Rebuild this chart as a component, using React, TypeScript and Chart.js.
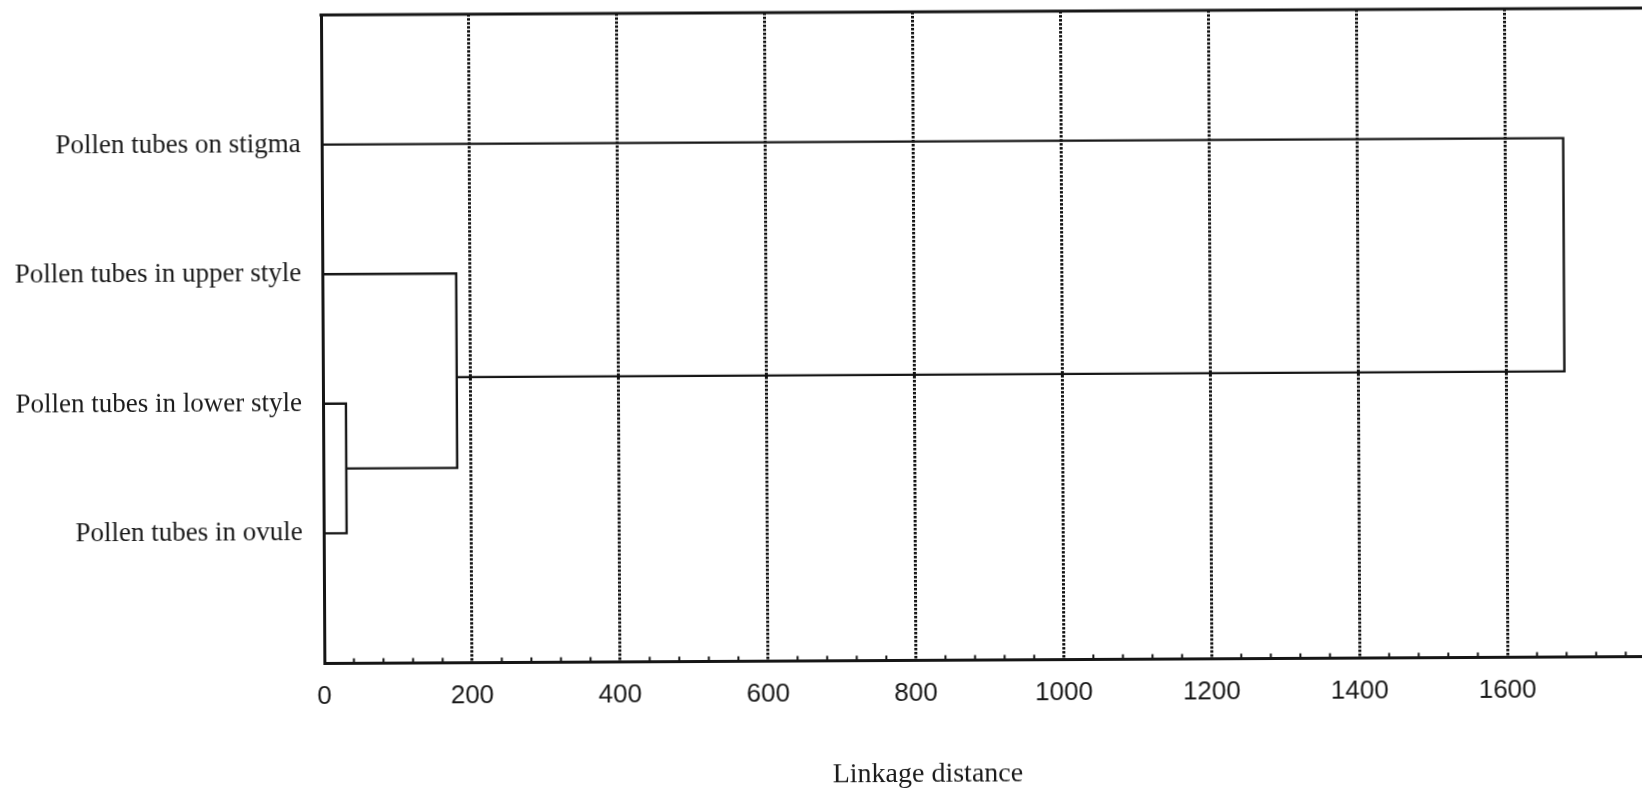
import { useEffect, useRef } from "react";
import { Chart, registerables } from "chart.js";

Chart.register(...registerables);

// Leaves of the dendrogram, top to bottom, and their row positions
const leafLabels = [
  "Pollen tubes on stigma",
  "Pollen tubes in upper style",
  "Pollen tubes in lower style",
  "Pollen tubes in ovule",
];
const leafRows = [1, 2, 3, 4];

// Linkage distances of the three joins (lower+ovule, +upper, +stigma)
const mergeDistances = [31, 181, 1679];
// Row at which each joined cluster's stem leaves its bracket
const mergeStems = [3.5, 2.8];

// Axis settings
const distanceTicks = [0, 200, 400, 600, 800, 1000, 1200, 1400, 1600];
const distanceMax = 1800;
const minorStep = 40;
const axisTitle = "Linkage distance";

const INK = "#161616";
const TEXT = "#1a1a1a";

// Each link is a bracket: child A -> join distance -> child B
const links = [
  [
    { x: 0, y: leafRows[2] },
    { x: mergeDistances[0], y: leafRows[2] },
    { x: mergeDistances[0], y: leafRows[3] },
    { x: 0, y: leafRows[3] },
  ],
  [
    { x: 0, y: leafRows[1] },
    { x: mergeDistances[1], y: leafRows[1] },
    { x: mergeDistances[1], y: mergeStems[0] },
    { x: mergeDistances[0], y: mergeStems[0] },
  ],
  [
    { x: 0, y: leafRows[0] },
    { x: mergeDistances[2], y: leafRows[0] },
    { x: mergeDistances[2], y: mergeStems[1] },
    { x: mergeDistances[1], y: mergeStems[1] },
  ],
];

// Top frame line, inward minor ticks and the axis caption
const framePlugin = {
  id: "frameAndCaption",
  afterDraw(chart: any) {
    const { ctx, chartArea, scales } = chart;
    const { left, right, top, bottom } = chartArea;
    const x = scales.x;
    ctx.save();
    ctx.strokeStyle = INK;
    ctx.lineWidth = 3;
    ctx.beginPath();
    ctx.moveTo(left - 1.5, top);
    ctx.lineTo(right, top);
    ctx.stroke();

    ctx.lineWidth = 2;
    ctx.beginPath();
    for (let v = minorStep; v <= distanceMax; v += minorStep) {
      if (v % 200 === 0) continue;
      const px = x.getPixelForValue(v);
      ctx.moveTo(px, bottom);
      ctx.lineTo(px, bottom - 4.5);
    }
    ctx.stroke();

    ctx.fillStyle = TEXT;
    ctx.font = '28px "Liberation Serif"';
    ctx.textAlign = "center";
    ctx.textBaseline = "middle";
    ctx.fillText(axisTitle, left + (right - left) * 0.453, 778);
    ctx.restore();
  },
};

export default function App() {
  const canvasRef = useRef<HTMLCanvasElement | null>(null);

  useEffect(() => {
    const canvas = canvasRef.current;
    if (!canvas) return;
    const chart = new Chart(canvas, {
      type: "scatter",
      data: {
        datasets: links.map((pts) => ({
          data: pts,
          showLine: true,
          borderColor: INK,
          borderWidth: 2.4,
          pointRadius: 0,
          tension: 0,
          fill: false,
        })),
      },
      options: {
        animation: false,
        responsive: false,
        devicePixelRatio: 1,
        layout: { padding: { top: 15, right: 46, left: 0, bottom: 0 } },
        plugins: {
          legend: { display: false },
          tooltip: { enabled: false },
        },
        scales: {
          x: {
            type: "linear",
            min: 0,
            max: distanceMax,
            afterBuildTicks: (scale: any) => {
              scale.ticks = distanceTicks.map((v) => ({ value: v }));
            },
            afterFit: (scale: any) => {
              scale.height = 129;
            },
            grid: {
              color: (c: any) =>
                c.tick && c.tick.value === 0 ? "rgba(0,0,0,0)" : "#111111",
              lineWidth: 3,
              drawTicks: false,
            },
            border: { color: INK, width: 3, dash: [2.5, 1.5] },
            ticks: {
              color: TEXT,
              font: { family: '"Liberation Sans"', size: 26 },
              padding: 18,
              maxRotation: 0,
              autoSkip: false,
              callback: (v: any) => String(v),
            },
          },
          y: {
            type: "linear",
            min: 0,
            max: 5,
            reverse: true,
            afterBuildTicks: (scale: any) => {
              scale.ticks = leafRows.map((v) => ({ value: v }));
            },
            afterFit: (scale: any) => {
              scale.width = 323;
              scale.paddingTop = 0;
              scale.paddingBottom = 0;
            },
            grid: { drawOnChartArea: false, drawTicks: false },
            border: { color: INK, width: 3 },
            ticks: {
              color: TEXT,
              font: { family: '"Liberation Serif"', size: 27 },
              padding: 21,
              callback: (v: any) => leafLabels[leafRows.indexOf(Number(v))],
            },
          },
        },
      },
      plugins: [framePlugin],
    });
    return () => chart.destroy();
  }, []);

  return (
    <div
      style={{
        position: "fixed",
        left: 0,
        top: 0,
        width: 1642,
        height: 792,
        overflow: "hidden",
        background: "#ffffff",
      }}
    >
      <canvas
        ref={canvasRef}
        width={1700}
        height={792}
        style={{
          display: "block",
          width: 1700,
          height: 792,
          transform: "rotate(-0.3deg)",
          transformOrigin: "320px 400px",
        }}
      />
    </div>
  );
}
